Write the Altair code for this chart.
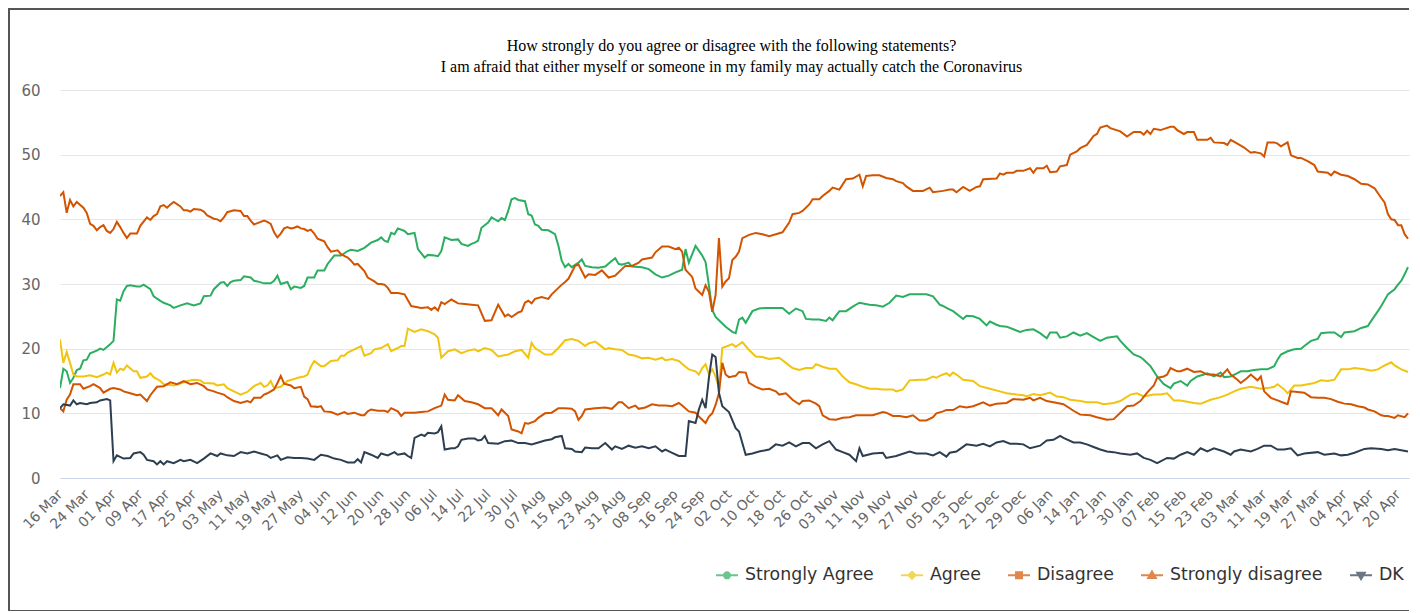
import altair as alt
import pandas as pd

TITLE_LINES = [
    "How strongly do you agree or disagree with the following statements?",
    "I am afraid that either myself or someone in my family may actually catch the Coronavirus",
]
SERIES = ["Strongly Agree", "Agree", "Disagree", "Strongly disagree", "DK"]
COLORS = ["#2bae60", "#f1c40f", "#d35400", "#d35400", "#2c3e50"]

START = "2020-03-16"   # day 0 of the survey series
END_DAY = 403.3        # right edge of the visible plot (days after START)

# (day after 16 Mar 2020, percent)
STRONGLY_AGREE = [(0,13.9),(1,16.9),(2,16.5),(3,14.7),(4,15.5),(5,16.7),(6,16.9),(7,18.2),(8,18.3),(9,19.3),(11,19.7),(12,20.0),(13,19.8),(15,20.7),(16,21.2),(17,27.6),(18,27.4),(19,28.9),(20,29.7),(21,29.8),(23,29.6),(24,29.6),(25,29.9),(27,29.2),(28,28.1),(30,27.4),(31,27.1),(33,26.7),(34,26.3),(36,26.7),(38,27.0),(40,26.7),(42,27.0),(43,28.1),(45,28.2),(46,29.2),(48,30.2),(49,30.3),(50,29.7),(51,30.3),(52,30.5),(54,30.6),(55,31.2),(57,31.0),(58,30.5),(59,30.4),(61,30.1),(63,30.1),(64,30.5),(65,31.3),(66,30.0),(68,30.3),(69,29.2),(70,29.6),(72,29.4),(73,29.7),(74,31.0),(76,31.0),(77,32.1),(79,32.1),(80,33.1),(82,34.4),(84,34.4),(86,35.1),(87,35.3),(89,35.1),(91,35.6),(93,36.4),(95,36.8),(96,37.2),(97,36.7),(98,36.5),(99,37.9),(100,37.7),(101,38.6),(103,38.2),(104,37.7),(106,37.9),(107,35.4),(109,34.1),(110,34.5),(112,34.4),(113,34.3),(114,35.1),(115,37.2),(117,36.8),(119,36.9),(120,36.2),(122,35.9),(123,36.2),(124,36.4),(125,36.7),(126,38.7),(128,39.5),(129,40.3),(131,39.7),(132,40.2),(133,39.9),(134,41.3),(135,43.1),(136,43.3),(137,43.0),(139,42.8),(140,40.8),(141,40.6),(142,39.2),(143,39.0),(144,38.4),(146,38.3),(148,37.7),(149,35.9),(150,33.6),(151,32.6),(152,33.1),(153,32.6),(155,33.3),(156,33.8),(157,32.8),(159,32.6),(161,32.5),(163,32.7),(165,33.6),(166,34.0),(167,33.1),(168,33.0),(170,33.3),(171,32.7),(174,32.6),(176,32.3),(178,31.5),(180,31.0),(182,31.3),(184,31.8),(186,32.2),(187,35.4),(188,33.3),(190,35.9),(192,34.4),(193,33.4),(194,29.8),(195,26.0),(196,24.9),(197,24.4),(199,23.4),(201,22.6),(202,22.4),(203,24.5),(204,24.8),(205,24.0),(207,25.8),(209,26.2),(211,26.3),(214,26.3),(216,26.3),(218,25.4),(220,26.2),(222,25.8),(223,24.6),(225,24.5),(227,24.5),(229,24.3),(230,24.8),(231,24.4),(232,25.1),(233,25.8),(235,25.8),(237,26.5),(239,27.1),(242,26.8),(244,26.7),(246,26.5),(248,27.1),(250,28.2),(252,28.0),(254,28.4),(257,28.4),(259,28.4),(261,28.1),(263,26.8),(264,26.6),(265,26.3),(267,25.8),(270,24.6),(271,25.1),(273,25.0),(275,24.6),(277,23.6),(278,24.2),(280,23.7),(281,23.5),(283,23.4),(285,23.0),(287,22.6),(289,22.9),(291,23.0),(293,22.4),(295,21.6),(296,22.5),(298,22.5),(299,21.7),(301,21.9),(303,22.5),(305,22.0),(307,22.4),(309,21.8),(311,21.2),(313,21.7),(316,21.9),(317,21.2),(319,20.1),(321,19.1),(323,18.7),(324,18.3),(326,17.3),(328,15.7),(330,14.5),(332,13.9),(333,14.6),(335,15.0),(337,14.3),(338,15.0),(340,15.7),(342,16.0),(343,16.2),(345,15.7),(347,16.3),(348,15.6),(350,15.7),(352,16.2),(353,16.5),(355,16.5),(357,16.7),(359,16.8),(361,16.8),(363,17.3),(364,18.3),(365,19.1),(367,19.6),(369,19.9),(371,20.0),(372,20.4),(374,21.2),(376,21.5),(377,22.4),(379,22.5),(381,22.5),(383,21.8),(384,22.5),(387,22.7),(389,23.2),(391,23.5),(392,24.3),(394,25.8),(395,26.6),(397,28.4),(399,29.2),(400,29.9),(401,30.5),(402,31.5),(403,32.6)]

AGREE = [(0,21.4),(1,17.8),(2,19.5),(3,17.8),(4,16.0),(5,15.7),(7,15.7),(9,15.9),(11,15.6),(13,16.0),(14,16.3),(15,16.0),(16,17.8),(17,16.3),(18,16.9),(19,16.7),(20,17.4),(22,16.5),(23,16.5),(24,15.5),(26,15.7),(27,16.2),(28,15.6),(30,15.0),(31,14.5),(34,14.3),(36,14.6),(38,15.0),(40,15.2),(42,15.1),(43,14.7),(46,14.6),(47,14.3),(49,14.5),(50,13.9),(52,13.4),(54,12.9),(56,13.3),(58,14.2),(60,14.7),(61,14.1),(62,14.3),(63,15.0),(64,13.9),(66,14.1),(68,15.0),(70,15.3),(71,15.5),(73,15.7),(74,16.0),(75,17.2),(76,18.1),(78,17.3),(79,17.3),(81,18.1),(83,18.2),(84,18.9),(85,18.9),(86,19.4),(88,19.9),(90,20.4),(91,18.9),(93,19.3),(94,19.9),(96,20.1),(98,20.7),(99,19.6),(101,20.1),(102,20.4),(103,20.4),(104,23.1),(106,22.6),(108,23.0),(110,22.7),(112,22.2),(113,21.7),(114,18.6),(116,19.6),(118,19.9),(120,19.3),(122,19.7),(124,19.9),(125,19.6),(127,20.1),(129,19.8),(131,18.8),(134,19.1),(136,19.6),(138,19.8),(140,18.6),(141,20.9),(142,20.1),(145,19.1),(147,19.1),(149,20.1),(151,21.3),(153,21.5),(155,21.2),(157,20.4),(158,20.8),(160,21.1),(161,20.7),(163,19.9),(164,20.1),(166,19.9),(168,19.8),(170,19.1),(172,18.9),(174,18.5),(176,18.6),(178,18.3),(180,18.6),(181,18.2),(183,18.4),(185,18.1),(187,17.2),(188,16.8),(190,16.5),(191,16.0),(192,17.0),(193,17.6),(194,16.0),(195,16.8),(196,15.7),(197,13.9),(198,20.1),(199,20.3),(201,20.7),(202,20.3),(204,21.0),(206,19.8),(208,18.8),(210,18.7),(212,18.4),(215,18.6),(217,17.8),(219,17.0),(221,16.7),(223,17.0),(225,17.0),(226,17.6),(228,17.2),(230,16.9),(232,16.9),(234,15.7),(236,14.8),(238,14.5),(240,14.1),(242,13.8),(244,13.8),(246,13.7),(249,13.7),(250,13.4),(252,13.7),(254,15.1),(257,15.2),(259,15.2),(261,15.7),(262,15.5),(263,15.8),(265,16.2),(266,15.8),(267,16.3),(268,16.0),(270,15.2),(273,15.0),(275,14.2),(278,13.8),(281,13.4),(283,13.1),(286,12.9),(288,12.8),(289,12.6),(291,13.0),(293,12.8),(296,13.2),(298,12.6),(300,12.5),(302,12.1),(305,11.9),(307,11.7),(310,11.7),(312,11.4),(315,11.6),(317,11.9),(320,12.9),(322,13.1),(324,12.6),(327,12.9),(329,12.9),(331,13.1),(333,12.0),(335,12.0),(337,11.8),(339,11.6),(341,11.5),(344,12.1),(347,12.5),(349,12.9),(351,13.4),(353,13.8),(356,14.1),(359,13.8),(361,13.9),(363,14.1),(364,14.5),(366,13.7),(367,13.1),(369,14.3),(371,14.3),(373,14.5),(375,14.7),(377,15.1),(379,15.0),(381,15.2),(383,16.8),(385,16.8),(387,17.0),(390,16.8),(392,16.6),(394,16.8),(396,17.4),(398,17.9),(399,17.4),(401,16.8),(403,16.4)]

DISAGREE = [(0,10.8),(1,10.3),(2,12.1),(3,12.9),(4,14.5),(6,14.5),(7,13.8),(9,14.2),(10,14.5),(12,13.9),(13,13.2),(15,13.8),(16,13.9),(18,13.7),(19,13.4),(21,13.1),(23,12.8),(24,12.9),(26,11.9),(27,12.8),(29,14.1),(31,14.2),(33,14.8),(35,14.5),(37,15.0),(39,14.5),(41,14.7),(43,14.2),(44,13.7),(46,13.4),(47,13.2),(49,12.9),(50,12.5),(52,11.9),(54,11.6),(56,11.9),(57,11.7),(58,12.4),(60,12.4),(61,12.9),(62,13.1),(64,13.7),(65,14.7),(66,15.8),(67,14.6),(69,14.3),(70,13.9),(72,14.1),(73,12.6),(74,12.2),(75,11.1),(77,11.0),(78,11.1),(79,10.3),(81,10.2),(83,9.8),(85,10.2),(86,9.9),(88,10.1),(90,9.7),(91,9.7),(92,10.3),(93,10.6),(95,10.4),(97,10.4),(98,10.2),(99,10.8),(101,10.3),(102,9.6),(103,10.1),(106,10.1),(108,10.2),(110,10.3),(112,10.8),(114,11.2),(115,12.9),(116,12.1),(118,12.0),(119,12.8),(121,11.9),(123,11.7),(125,11.4),(127,10.8),(129,10.8),(131,9.7),(132,10.6),(134,9.6),(135,7.5),(137,7.2),(138,6.9),(139,8.5),(140,8.4),(142,8.8),(143,9.3),(145,10.0),(147,10.1),(149,10.8),(151,10.8),(153,10.7),(154,10.3),(155,9.0),(156,9.6),(157,10.6),(160,10.8),(163,10.9),(165,10.7),(167,11.7),(168,11.7),(170,10.8),(172,11.2),(173,10.7),(175,10.9),(177,11.4),(179,11.2),(181,11.2),(183,11.1),(185,11.6),(186,11.2),(188,10.3),(190,10.1),(191,9.5),(193,8.5),(194,9.5),(195,10.0),(196,11.3),(197,13.1),(198,17.8),(199,16.0),(200,15.6),(202,15.8),(203,16.4),(205,16.3),(206,14.7),(208,14.1),(210,13.7),(212,13.8),(214,13.4),(215,12.9),(217,13.1),(219,12.1),(221,11.4),(222,11.9),(224,12.0),(226,11.5),(227,11.1),(228,9.7),(230,9.1),(232,9.0),(234,9.3),(236,9.4),(238,9.7),(240,9.7),(243,9.7),(246,10.2),(247,10.1),(249,9.6),(251,9.6),(253,9.4),(255,9.7),(257,8.9),(259,8.9),(261,9.4),(262,10.0),(264,10.3),(265,10.5),(267,10.5),(269,11.1),(271,10.9),(273,11.1),(276,11.7),(278,11.2),(280,11.5),(283,11.6),(285,12.2),(288,12.1),(290,12.4),(291,12.0),(293,12.4),(295,11.9),(297,11.7),(300,11.4),(303,10.4),(305,9.8),(308,9.7),(310,9.4),(313,9.0),(315,9.1),(317,10.1),(319,11.1),(321,11.2),(323,11.9),(325,13.2),(327,14.3),(328,15.5),(330,15.7),(331,16.0),(332,17.0),(334,16.5),(335,16.5),(337,16.9),(339,16.4),(341,16.5),(343,16.0),(345,16.0),(347,15.7),(349,16.8),(350,16.0),(352,15.2),(353,14.7),(355,15.5),(356,16.0),(358,15.1),(359,15.7),(360,13.4),(362,12.4),(364,12.0),(366,11.6),(367,11.4),(368,13.4),(370,13.3),(372,13.2),(374,12.5),(376,12.4),(378,12.4),(380,12.2),(382,11.8),(384,11.5),(386,11.4),(388,11.1),(390,10.9),(391,10.6),(393,10.3),(395,9.7),(396,9.6),(397,9.6),(399,9.3),(400,9.7),(402,9.4),(403,10.0)]

STRONGLY_DISAGREE = [(0,43.6),(1,44.2),(2,41.0),(3,43.0),(4,42.0),(5,42.7),(7,41.8),(8,41.0),(9,39.3),(10,39.0),(11,38.3),(12,38.8),(13,39.1),(14,38.2),(15,37.9),(16,38.5),(17,39.6),(18,38.8),(19,37.9),(20,37.1),(21,37.8),(23,37.8),(24,39.0),(26,40.3),(27,39.9),(28,40.5),(29,40.8),(30,42.0),(31,42.2),(32,41.8),(33,42.3),(34,42.7),(36,42.0),(37,41.4),(38,41.4),(39,41.2),(40,41.6),(42,41.5),(43,41.2),(44,40.6),(46,40.1),(47,40.0),(48,39.7),(49,40.3),(50,41.1),(52,41.4),(54,41.3),(55,40.5),(56,40.5),(57,39.8),(58,39.2),(60,39.6),(61,39.8),(62,39.6),(63,39.3),(64,38.0),(65,37.2),(66,37.8),(67,38.6),(68,38.8),(69,38.6),(70,38.7),(71,38.9),(72,38.6),(73,38.5),(74,38.2),(75,38.4),(76,37.8),(77,37.0),(78,36.8),(79,36.6),(80,35.7),(81,35.0),(83,35.2),(84,34.6),(86,34.1),(87,33.6),(88,33.0),(89,33.1),(91,32.0),(92,31.0),(94,30.4),(95,30.0),(96,30.0),(97,29.9),(98,29.4),(99,28.6),(101,28.6),(103,28.4),(105,26.6),(108,26.3),(110,26.4),(111,26.0),(112,26.4),(113,25.9),(114,27.2),(115,26.9),(117,27.6),(119,27.0),(121,26.9),(123,26.8),(125,26.7),(127,24.3),(129,24.4),(130,25.6),(131,26.8),(133,25.0),(134,25.3),(135,24.9),(137,25.6),(138,25.8),(139,27.1),(140,27.4),(141,27.0),(142,27.7),(144,28.0),(146,27.7),(147,28.4),(149,29.4),(150,29.9),(151,30.3),(152,30.8),(154,32.8),(155,33.0),(157,31.0),(158,31.5),(160,31.4),(162,32.1),(164,31.0),(166,31.3),(168,32.3),(169,32.8),(171,32.8),(173,33.3),(174,33.8),(177,34.1),(178,34.9),(180,35.8),(182,35.8),(184,35.4),(185,35.6),(186,35.0),(187,32.2),(189,31.1),(190,29.3),(192,28.3),(193,29.8),(194,28.8),(195,25.7),(196,28.3),(197,37.1),(198,29.6),(199,30.4),(200,30.9),(201,33.7),(202,34.2),(203,35.0),(204,37.1),(206,37.6),(208,37.9),(210,37.7),(212,37.4),(214,37.7),(216,38.0),(218,39.5),(219,40.8),(221,41.0),(222,41.3),(224,42.3),(225,43.1),(227,43.1),(228,43.6),(230,44.4),(231,44.9),(233,44.6),(235,46.2),(237,46.3),(239,46.9),(240,45.1),(241,46.7),(243,46.8),(245,46.8),(247,46.4),(249,46.2),(250,45.9),(252,45.6),(253,45.1),(255,44.4),(258,44.4),(260,44.9),(261,44.2),(264,44.4),(266,44.6),(267,44.6),(268,44.2),(270,45.0),(272,44.4),(274,45.0),(275,45.1),(276,46.2),(280,46.3),(281,47.1),(282,46.9),(283,47.2),(285,47.2),(286,47.5),(288,47.5),(290,47.9),(291,47.2),(292,47.9),(294,47.9),(295,48.3),(296,47.3),(298,47.4),(299,48.2),(301,48.4),(302,50.0),(304,50.5),(305,51.0),(307,51.5),(309,52.9),(310,53.2),(311,54.2),(313,54.5),(314,54.1),(317,53.6),(319,52.8),(321,53.5),(323,53.5),(324,53.1),(325,53.7),(326,53.2),(327,54.0),(329,53.8),(332,54.3),(333,54.3),(334,53.8),(336,53.2),(337,53.5),(339,53.5),(340,52.3),(343,52.3),(344,52.6),(345,51.9),(348,51.8),(349,51.5),(350,52.3),(352,51.7),(354,51.1),(356,50.3),(357,50.4),(359,50.2),(360,49.7),(361,51.9),(363,51.9),(364,51.7),(365,51.3),(367,51.9),(368,49.9),(370,49.5),(371,49.5),(373,49.0),(375,48.4),(376,47.4),(379,47.2),(380,46.8),(381,47.4),(383,46.9),(385,46.7),(387,46.2),(389,45.5),(391,45.4),(393,44.8),(395,43.3),(396,42.6),(397,40.8),(398,40.0),(399,39.9),(400,39.1),(401,39.1),(402,37.7),(403,37.0)]

DK = [(0,10.8),(1,11.4),(3,11.2),(4,12.0),(5,11.4),(6,11.6),(8,11.4),(9,11.6),(11,11.7),(12,12.0),(14,12.2),(15,12.0),(16,2.6),(17,3.5),(19,3.0),(21,3.1),(22,3.8),(24,4.0),(25,3.6),(26,2.8),(28,2.6),(29,2.1),(30,2.6),(31,2.1),(32,2.6),(34,2.3),(36,2.8),(37,2.6),(39,2.8),(41,2.3),(43,3.0),(45,3.8),(47,3.4),(48,3.8),(50,3.5),(52,3.4),(54,4.0),(56,3.8),(58,4.1),(60,3.8),(62,3.5),(63,3.1),(65,3.5),(66,2.8),(68,3.2),(70,3.1),(72,3.1),(74,3.0),(76,2.8),(78,3.6),(80,3.4),(82,3.0),(84,2.8),(86,2.4),(88,2.4),(89,2.9),(90,2.4),(91,4.0),(93,3.6),(95,3.1),(96,3.8),(98,3.5),(100,4.0),(101,3.6),(103,3.8),(104,3.4),(105,3.1),(106,6.2),(108,6.7),(109,6.5),(110,7.0),(112,6.9),(113,7.1),(114,8.0),(115,4.4),(117,4.6),(118,4.6),(119,4.9),(120,5.9),(122,6.1),(124,6.1),(125,5.8),(126,5.9),(127,6.5),(128,5.4),(131,5.3),(133,5.7),(135,5.8),(137,5.4),(139,5.4),(141,5.2),(143,5.5),(145,5.8),(147,6.0),(148,6.3),(150,6.5),(151,4.6),(153,4.5),(154,4.1),(156,4.0),(157,4.7),(159,4.6),(161,4.6),(163,5.4),(165,4.4),(166,4.9),(168,4.5),(170,5.0),(172,4.7),(174,4.9),(176,4.6),(178,4.9),(180,4.1),(181,4.4),(183,3.9),(185,3.4),(187,3.4),(188,8.8),(190,8.5),(191,10.6),(192,12.1),(193,10.8),(194,15.5),(195,19.1),(196,18.7),(197,13.2),(198,11.1),(200,10.2),(202,7.7),(203,7.2),(205,3.6),(207,3.8),(209,4.1),(212,4.4),(214,5.2),(216,5.0),(218,5.5),(220,4.9),(222,5.4),(224,5.4),(226,4.6),(228,5.2),(230,5.7),(232,4.4),(234,4.0),(236,3.6),(238,2.6),(239,4.6),(240,3.4),(243,3.8),(246,3.9),(247,3.1),(250,3.4),(254,4.1),(256,3.8),(259,3.8),(261,3.5),(263,4.0),(265,3.3),(266,3.9),(268,4.1),(271,5.2),(274,5.0),(276,5.3),(278,4.9),(280,5.5),(282,5.7),(284,5.3),(286,5.3),(288,5.2),(290,4.6),(293,5.0),(295,5.8),(297,5.9),(299,6.5),(300,6.2),(303,5.5),(305,5.5),(307,5.2),(309,4.8),(311,4.4),(313,4.1),(315,4.0),(317,3.8),(320,3.6),(322,3.8),(324,3.1),(326,2.8),(328,2.3),(331,3.1),(333,3.0),(335,3.6),(337,4.0),(339,3.6),(341,4.6),(343,4.1),(345,4.6),(348,4.1),(350,3.6),(351,4.1),(353,4.4),(356,4.1),(358,4.5),(360,5.0),(362,5.0),(364,4.4),(366,4.4),(368,4.6),(370,3.5),(372,3.8),(376,4.0),(378,3.6),(381,3.8),(383,3.5),(385,3.6),(387,3.9),(390,4.5),(392,4.6),(395,4.5),(397,4.3),(399,4.5),(401,4.3),(403,4.1)]

X_TICKS = ["2020-03-16","2020-03-24","2020-04-01","2020-04-09","2020-04-17","2020-04-25",
           "2020-05-03","2020-05-11","2020-05-19","2020-05-27","2020-06-04","2020-06-12",
           "2020-06-20","2020-06-28","2020-07-06","2020-07-14","2020-07-22","2020-07-30",
           "2020-08-07","2020-08-15","2020-08-23","2020-08-31","2020-09-08","2020-09-16",
           "2020-09-24","2020-10-02","2020-10-10","2020-10-18","2020-10-26","2020-11-03",
           "2020-11-11","2020-11-19","2020-11-27","2020-12-05","2020-12-13","2020-12-21",
           "2020-12-29","2021-01-06","2021-01-14","2021-01-22","2021-01-30","2021-02-07",
           "2021-02-15","2021-02-23","2021-03-03","2021-03-11","2021-03-19","2021-03-27",
           "2021-04-04","2021-04-12","2021-04-20"]
Y_TICKS = [0, 10, 20, 30, 40, 50, 60]

# ---------------------------------------------------------------- build table
DAY_MS = 86400000
start_ms = pd.Timestamp(START, tz="UTC").value // 10**6
rows = []
for name, pts in zip(SERIES, [STRONGLY_AGREE, AGREE, DISAGREE, STRONGLY_DISAGREE, DK]):
    for d, v in pts:
        rows.append({"series": name, "t": start_ms + d * DAY_MS, "value": v})
df = pd.DataFrame(rows)
tick_ms = [pd.Timestamp(s, tz="UTC").value // 10**6 for s in X_TICKS]
x_domain = [start_ms, start_ms + END_DAY * DAY_MS]

# legend symbols: a short line with the series marker on it (marker drawn
# as nested outlines so the 2px stroke reads as a solid marker)
SHAPES = [
    "M-1,0H1M-0.273,0A0.273,0.273,0,1,0,0.273,0A0.273,0.273,0,1,0,-0.273,0Z"
    "M-0.091,0A0.091,0.091,0,1,0,0.091,0A0.091,0.091,0,1,0,-0.091,0Z",
    "M-1,0H1M0,-0.318L0.318,0L0,0.318L-0.318,0ZM0,-0.11L0.11,0L0,0.11L-0.11,0Z",
    "M-1,0H1M-0.273,-0.273H0.273V0.273H-0.273ZM-0.091,-0.091H0.091V0.091H-0.091Z",
    "M-1,0H1M0,-0.345L0.345,0.236L-0.345,0.236ZM0,-0.073L0.118,0.109L-0.118,0.109Z",
    "M-1,0H1M0,0.345L0.345,-0.236L-0.345,-0.236ZM0,0.073L0.118,-0.109L-0.118,-0.109Z",
]

W, H = 1349, 388
FONT = "DejaVu Sans"

x_enc = alt.X("t:T", title=None,
              scale=alt.Scale(type="utc", domain=x_domain, nice=False),
              axis=alt.Axis(values=tick_ms, labelExpr="utcFormat(datum.value, '%d %b')",
                            labelAngle=-45, labelAlign="right", labelBaseline="middle",
                            labelPadding=14, labelOverlap=False, labelFlush=False,
                            labelFont=FONT, labelFontSize=14, labelColor="#666666",
                            ticks=False, grid=False, domainColor="#ccd6eb", domainWidth=1))
y_enc = alt.Y("value:Q", title=None,
              scale=alt.Scale(domain=[0, 60], nice=False),
              axis=alt.Axis(values=Y_TICKS, labelFont=FONT, labelFontSize=15,
                            labelColor="#666666", labelPadding=20, ticks=False,
                            domain=False, grid=True, gridColor="#e6e6e6"))
color_enc = alt.Color("series:N", title=None,
                      scale=alt.Scale(domain=SERIES, range=COLORS))

lines = alt.Chart(df).mark_line(strokeWidth=2, clip=True).encode(
    x=x_enc, y=y_enc, color=color_enc, detail="series:N")

legend_pts = alt.Chart(df).mark_point(filled=False, strokeWidth=2).encode(
    x=x_enc, y=y_enc, color=color_enc,
    shape=alt.Shape("series:N", title=None,
                    scale=alt.Scale(domain=SERIES, range=SHAPES)),
).transform_filter("false")

one = alt.Data(values=[{"k": 1}])

# chart title (two centred lines, serif)
title_marks = [
    alt.Chart(one).mark_text(font="Liberation Serif", fontSize=16, color="#000000",
                             align="center", baseline="alphabetic", clip=False).encode(
        x=alt.value(W / 2 - 3), y=alt.value(yy), text=alt.value(txt))
    for txt, yy in zip(TITLE_LINES, [-39, -18])
]

FRAME = "#555555"
frame_top = alt.Chart(one).mark_rule(color=FRAME, strokeWidth=2, clip=False).encode(
    x=alt.value(-52), x2=alt.value(W), y=alt.value(-81))
frame_left = alt.Chart(one).mark_rule(color=FRAME, strokeWidth=2, clip=False).encode(
    x=alt.value(-51), y=alt.value(-82), y2=alt.value(522))
frame_bottom = alt.Chart(one).mark_rule(color=FRAME, strokeWidth=2, clip=False).encode(
    x=alt.value(-52), x2=alt.value(W), y=alt.value(521))

chart = alt.layer(lines, legend_pts, *title_marks, frame_top, frame_left, frame_bottom).properties(
    width=W, height=H,
    padding={"left": 52, "top": 82, "right": 3, "bottom": 133},
    autosize=alt.AutoSizeParams(type="none"),
).configure_view(strokeWidth=0).configure_legend(
    orient="none", legendX=655, legendY=473, direction="horizontal",
    symbolSize=484, labelFont=FONT, labelFontSize=17.35, labelColor="#333333",
    labelOffset=6, columnPadding=23, padding=0, symbolStrokeWidth=2,
)

chart.save("out.html", embed_options={"renderer": "svg", "actions": False})
